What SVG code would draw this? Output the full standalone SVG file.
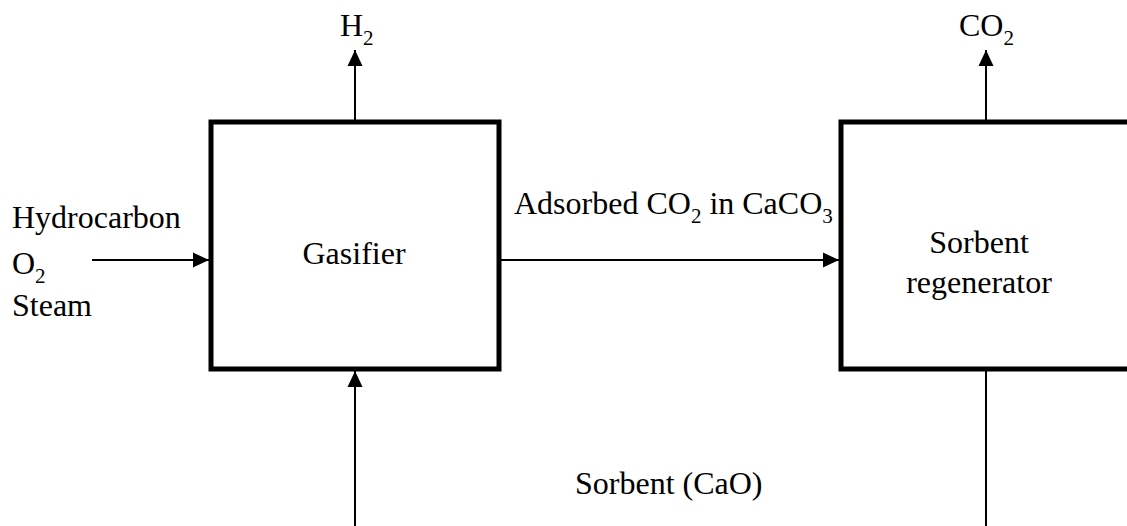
<svg xmlns="http://www.w3.org/2000/svg" width="1127" height="526" viewBox="0 0 1127 526">
<style>
text{font-family:"Liberation Serif","Times New Roman",serif;font-size:32px;fill:#000}
.sub{font-size:21px}
.box{fill:#fff;stroke:#000;stroke-width:5}
.ln{stroke:#000;stroke-width:2;fill:none}
</style>
<defs>
<marker id="ah" markerWidth="16" markerHeight="16" viewBox="0 0 16 16" refX="16" refY="8" orient="auto" markerUnits="userSpaceOnUse">
<path d="M0,0.5 L16,8 L0,15.5 Z" fill="#000"/>
</marker>
</defs>
<g id="connectors">
<line class="ln" x1="355" y1="120" x2="355" y2="50" marker-end="url(#ah)"/>
<line class="ln" x1="986" y1="120" x2="986" y2="50" marker-end="url(#ah)"/>
<line class="ln" x1="92" y1="260" x2="209" y2="260" marker-end="url(#ah)"/>
<line class="ln" x1="501" y1="260" x2="839" y2="260" marker-end="url(#ah)"/>
<line class="ln" x1="355" y1="526" x2="355" y2="371" marker-end="url(#ah)"/>
<line class="ln" x1="986" y1="371" x2="986" y2="526"/>
<text x="514" y="214">Adsorbed CO<tspan class="sub" dy="9">2</tspan><tspan dy="-9"> in CaCO</tspan><tspan class="sub" dy="9">3</tspan></text>
<text x="575" y="494">Sorbent (CaO)</text>
</g>
<g id="inputs">
<text x="12" y="228">Hydrocarbon</text>
<text x="12" y="274">O<tspan class="sub" dy="9">2</tspan></text>
<text x="12" y="316">Steam</text>
</g>
<g id="h2">
<text x="340" y="36">H<tspan class="sub" dy="9">2</tspan></text>
</g>
<g id="co2">
<text x="959" y="36">CO<tspan class="sub" dy="9">2</tspan></text>
</g>
<g id="gasifier">
<rect class="box" x="211" y="122" width="288" height="247"/>
<text x="354" y="264" text-anchor="middle">Gasifier</text>
</g>
<g id="regenerator">
<rect class="box" x="841" y="122" width="300" height="247"/>
<text x="979" y="253" text-anchor="middle">Sorbent</text>
<text x="979" y="293" text-anchor="middle">regenerator</text>
</g>
</svg>
